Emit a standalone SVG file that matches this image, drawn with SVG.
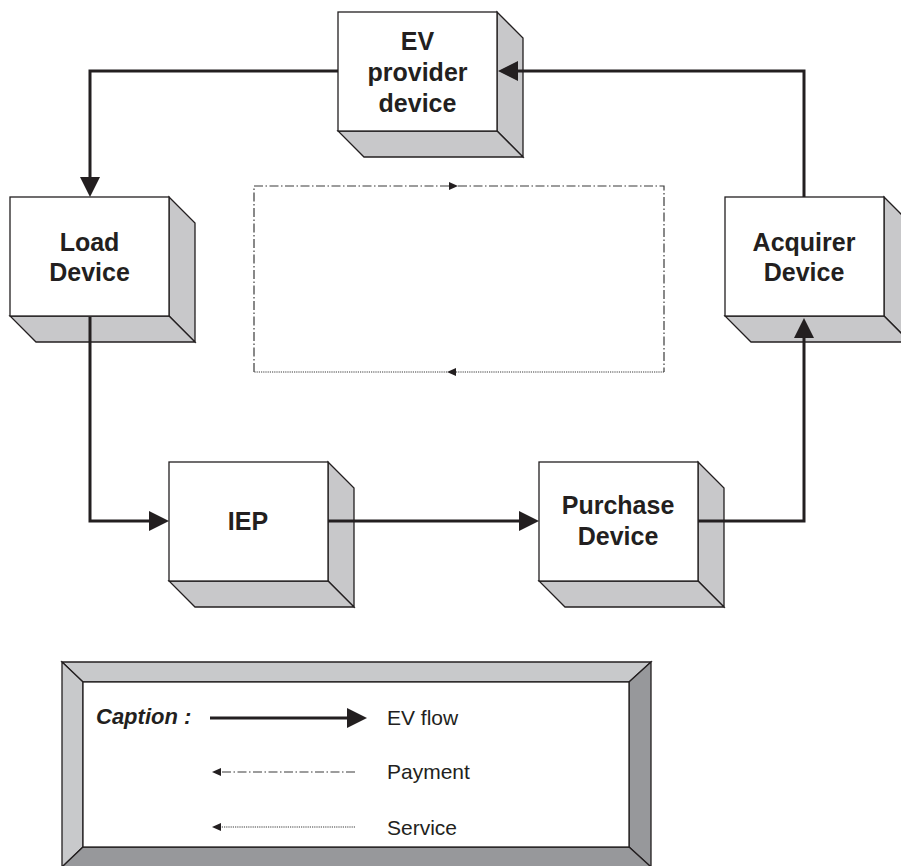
<svg xmlns="http://www.w3.org/2000/svg" xmlns:xlink="http://www.w3.org/1999/xlink" width="901" height="866" viewBox="0 0 901 866">
  <style>
    .front { fill: #ffffff; stroke: #231f20; stroke-width: 1.3; }
    .side { fill: #c8c8ca; stroke: #231f20; stroke-width: 1.3; stroke-linejoin: miter; }
    .lbl { font-family: "Liberation Sans", Arial, sans-serif; font-weight: bold; font-size: 25px; fill: #231f20; text-anchor: middle; }
    .flow { fill: none; stroke: #231f20; stroke-width: 3; stroke-linejoin: miter; marker-end: url(#bigArrow); }
    .pay { fill: none; stroke: #3a3a3a; stroke-width: 1.2; stroke-dasharray: 9 2.5 1.5 2.5; }
    .srv { fill: none; stroke: #3a3a3a; stroke-width: 1.2; stroke-dasharray: 1.2 1; }
    .bevel-light { fill: #c8c9cb; stroke: #231f20; stroke-width: 1.3; }
    .bevel-dark { fill: #97989b; stroke: #231f20; stroke-width: 1.3; }
    .legend { font-family: "Liberation Sans", Arial, sans-serif; font-size: 21px; fill: #231f20; }
    .cap { font-family: "Liberation Sans", Arial, sans-serif; font-size: 22px; font-weight: bold; font-style: italic; fill: #231f20; }
  </style>
  <defs>
    <!-- 3D block: 159x119 front face, 26px depth -->
    <g id="cube">
      <polygon class="side" points="159,0 185,26 185,145 159,119"/>
      <polygon class="side" points="0,119 159,119 185,145 26,145"/>
      <rect class="front" x="0" y="0" width="159" height="119"/>
    </g>
    <marker id="bigArrow" markerUnits="userSpaceOnUse" markerWidth="20" markerHeight="20" refX="0" refY="10" orient="auto">
      <path d="M0,0 L20,10 L0,20 z" fill="#231f20"/>
    </marker>
    <marker id="smallArrow" markerUnits="userSpaceOnUse" markerWidth="9" markerHeight="8" refX="0" refY="4" orient="auto">
      <path d="M0,0 L9,4 L0,8 z" fill="#231f20"/>
    </marker>
  </defs>

  <!-- nodes -->
  <g id="ev-provider">
    <use xlink:href="#cube" x="338" y="12"/>
    <text class="lbl" x="417.5" y="50">EV</text>
    <text class="lbl" x="417.5" y="81">provider</text>
    <text class="lbl" x="417.5" y="112">device</text>
  </g>
  <g id="load-device">
    <use xlink:href="#cube" x="10" y="197"/>
    <text class="lbl" x="89.5" y="251">Load</text>
    <text class="lbl" x="89.5" y="281">Device</text>
  </g>
  <g id="acquirer-device">
    <use xlink:href="#cube" x="725" y="197"/>
    <text class="lbl" x="804" y="251">Acquirer</text>
    <text class="lbl" x="804" y="281">Device</text>
  </g>
  <g id="iep">
    <use xlink:href="#cube" x="169" y="462"/>
    <text class="lbl" x="248" y="530">IEP</text>
  </g>
  <g id="purchase-device">
    <use xlink:href="#cube" x="539" y="462"/>
    <text class="lbl" x="618" y="514">Purchase</text>
    <text class="lbl" x="618" y="545">Device</text>
  </g>

  <!-- connectors -->
  <g id="connectors">
    <path class="flow" d="M338,71 H90 V177"/>
    <path class="flow" d="M90,317 V521 H149"/>
    <path class="flow" d="M328,521 H519"/>
    <path class="flow" d="M698,521 H804 V338"/>
    <path class="flow" d="M804,197 V71 H518"/>

    <!-- payment loop (dash-dot) -->
    <path class="pay" d="M254,372 V186 H449" marker-end="url(#smallArrow)"/>
    <path class="pay" d="M458,186 H664 V372"/>
    <!-- service return (dotted) -->
    <path class="srv" d="M664,372 H456" marker-end="url(#smallArrow)"/>
    <path class="srv" d="M447,372 H254"/>
  </g>

  <!-- caption panel -->
  <g id="caption">
    <polygon class="bevel-light" points="62,662 651,662 629,682 83,682"/>
    <polygon class="bevel-light" points="62,662 83,682 83,847 62,867"/>
    <polygon class="bevel-dark" points="651,662 651,867 629,847 629,682"/>
    <polygon class="bevel-dark" points="62,867 83,847 629,847 651,867"/>
    <rect x="83" y="682" width="546" height="165" fill="#ffffff" stroke="#231f20" stroke-width="1.3"/>

    <text class="cap" x="96" y="724">Caption :</text>
    <path class="flow" d="M210,718 H347"/>
    <text class="legend" x="387" y="725">EV flow</text>

    <path class="pay" d="M355,772 H221" marker-end="url(#smallArrow)"/>
    <text class="legend" x="387" y="779">Payment</text>

    <path class="srv" d="M355,827 H221" marker-end="url(#smallArrow)"/>
    <text class="legend" x="387" y="835">Service</text>
  </g>
</svg>
